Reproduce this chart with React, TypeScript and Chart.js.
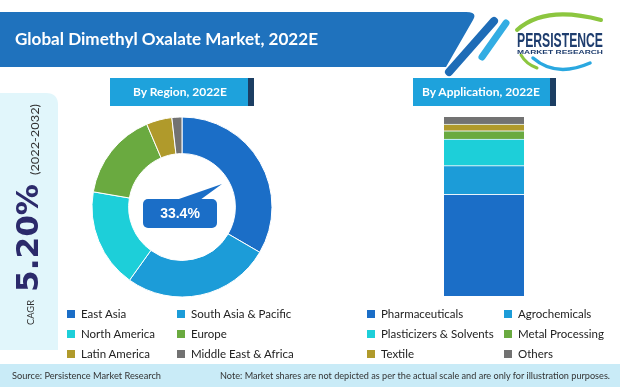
import React, { useEffect, useRef } from 'react';
import Chart from 'chart.js/auto';

const regionLabels = ['East Asia', 'South Asia & Pacific', 'North America', 'Europe', 'Latin America', 'Middle East & Africa'];
const regionShares = [33.4, 26.5, 17.8, 15.9, 4.6, 1.8];
const applicationLabels = ['Pharmaceuticals', 'Agrochemicals', 'Plasticizers & Solvents', 'Metal Processing', 'Textile', 'Others'];
const applicationShares = [56.8, 16.0, 14.9, 4.6, 3.7, 4.0];
const segmentColors = ['#1b6ec7', '#1c9cd8', '#1dcfd9', '#6aaa40', '#b09a2b', '#727272'];
const highlightText = '33.4%';
const titleText = 'Global Dimethyl Oxalate Market, 2022E';
const cagrValue = '5.20%';
const cagrPeriod = '(2022-2032)';

const LEGEND_ROWS = [317.5, 337.5, 357.5];

function Legend({ labels, x1, x2 }: { labels: string[]; x1: number; x2: number }) {
  return (
    <g>
      {labels.map((l, i) => {
        const col = i % 2;
        const row = Math.floor(i / 2);
        const x = col === 0 ? x1 : x2;
        const y = LEGEND_ROWS[row];
        return (
          <g key={l}>
            <rect x={x} y={y - 7.5} width={8} height={8} fill={segmentColors[i]} />
            <text x={x + 14} y={y} fontFamily="Lato" fontSize={11.5} fill="#222">{l}</text>
          </g>
        );
      })}
    </g>
  );
}

export default function App() {
  const donutRef = useRef<HTMLCanvasElement>(null);
  const barRef = useRef<HTMLCanvasElement>(null);

  useEffect(() => {
    document.body.style.margin = '0';
    const donut = new Chart(donutRef.current!, {
      type: 'doughnut',
      data: {
        labels: regionLabels,
        datasets: [{
          data: regionShares,
          backgroundColor: segmentColors,
          borderColor: '#ffffff',
          borderWidth: 1,
          hoverOffset: 0,
          offset: 0,
        }],
      },
      options: {
        responsive: false,
        animation: false,
        events: [],
        radius: 90,
        cutout: 59,
        layout: { padding: 0 },
        plugins: { legend: { display: false }, tooltip: { enabled: false } },
      } as any,
    });
    const total = applicationShares.reduce((a, b) => a + b, 0);
    const bar = new Chart(barRef.current!, {
      type: 'bar',
      data: {
        labels: ['2022E'],
        datasets: applicationLabels.map((l, i) => ({
          label: l,
          data: [applicationShares[i]],
          backgroundColor: segmentColors[i],
          borderColor: '#e8f4fb',
          borderWidth: i < applicationLabels.length - 1 ? { top: 1, bottom: 0, left: 0, right: 0 } : 0,
          borderSkipped: false,
          barPercentage: 1,
          categoryPercentage: 1,
        })),
      },
      options: {
        responsive: false,
        animation: false,
        events: [],
        layout: { padding: 0 },
        scales: {
          x: { stacked: true, display: false },
          y: { stacked: true, display: false, min: 0, max: total },
        },
        plugins: { legend: { display: false }, tooltip: { enabled: false } },
      } as any,
    });
    return () => {
      donut.destroy();
      bar.destroy();
    };
  }, []);

  return (
    <div style={{ position: 'fixed', left: 0, top: 0, width: 620, height: 387, background: '#fff', overflow: 'hidden' }}>
      <canvas ref={donutRef} width={200} height={200} style={{ position: 'absolute', left: 82, top: 107, width: 200, height: 200 }} />
      <canvas ref={barRef} width={80} height={179} style={{ position: 'absolute', left: 444, top: 117, width: 80, height: 179 }} />
      <svg width={620} height={387} style={{ position: 'absolute', left: 0, top: 0, pointerEvents: 'none' }}>
        {/* header */}
        <path d="M0,12 H466 Q478,12 473,20 L446,67 H0 Z" fill="#1f72bd" />
        <line x1={494} y1={21} x2={449} y2={72} stroke="#1e6cb7" strokeWidth={8} strokeLinecap="round" />
        <line x1={506} y1={23} x2={482} y2={57} stroke="#33ade3" strokeWidth={7} strokeLinecap="round" />
        <text x={15} y={45} fontFamily="Lato" fontWeight={700} fontSize={17} fill="#ffffff" textLength={303} lengthAdjust="spacingAndGlyphs">{titleText}</text>
        {/* logo */}
        <path d="M517,30 Q545,5 601,20" fill="none" stroke="#8cc63f" strokeWidth={4} strokeLinecap="round" />
        <path d="M533,58 Q556,78 590,63" fill="none" stroke="#2aa8e0" strokeWidth={3.5} strokeLinecap="round" />
        <path d="M521,55 Q526,64 537,68" fill="none" stroke="#8cc63f" strokeWidth={3} strokeLinecap="round" />
        <text x={517} y={47} fontFamily="Liberation Sans" fontWeight={700} fontSize={20} fill="#1e3d6e" textLength={86} lengthAdjust="spacingAndGlyphs">PERSISTENCE</text>
        <text x={517} y={54} fontFamily="Liberation Sans" fontWeight={700} fontSize={6} fill="#1e3d6e" textLength={86} lengthAdjust="spacingAndGlyphs">MARKET RESEARCH</text>
        {/* section headers */}
        <rect x={110} y={78} width={144} height={28} fill="#1c3e63" />
        <rect x={110} y={78} width={138} height={28} fill="#1ea2dc" />
        <text x={180} y={96} textAnchor="middle" fontFamily="Lato" fontWeight={700} fontSize={12} fill="#ffffff">By Region, 2022E</text>
        <rect x={413} y={78} width={143} height={28} fill="#1c3e63" />
        <rect x={413} y={78} width={137} height={28} fill="#1ea2dc" />
        <text x={481} y={96} textAnchor="middle" fontFamily="Lato" fontWeight={700} fontSize={12} fill="#ffffff">By Application, 2022E</text>
        {/* CAGR panel */}
        <path d="M0,93 H46 Q58,93 58,105 V350 H0 Z" fill="#e1f6fb" />
        <text transform="translate(34,325) rotate(-90)" fontFamily="Lato" fontSize={10} fill="#333" textLength={25} lengthAdjust="spacingAndGlyphs">CAGR</text>
        <text transform="translate(38,292) rotate(-90)" fontFamily="DejaVu Sans" fontWeight={700} fontSize={31} fill="#2b2a6b" textLength={108} lengthAdjust="spacingAndGlyphs">{cagrValue}</text>
        <text transform="translate(39,175) rotate(-90)" fontFamily="Lato" fontSize={11} fill="#333" textLength={71} lengthAdjust="spacingAndGlyphs">{cagrPeriod}</text>
        {/* callout */}
        <polygon points="176,200 200,200 222,184" fill="#1b6ec7" />
        <rect x={143} y={199} width={74} height={29} rx={5} fill="#1b6ec7" />
        <text x={180} y={218} textAnchor="middle" fontFamily="Liberation Sans" fontWeight={700} fontSize={14} fill="#ffffff">{highlightText}</text>
        {/* legends */}
        <Legend labels={regionLabels} x1={67} x2={177} />
        <Legend labels={applicationLabels} x1={367} x2={504} />
        {/* footer */}
        <rect x={0} y={364} width={620} height={23} fill="#c9ebf7" />
        <text x={12} y={379} fontFamily="Lato" fontSize={9} fill="#333" textLength={149} lengthAdjust="spacingAndGlyphs">Source: Persistence Market Research</text>
        <text x={220} y={379} fontFamily="Lato" fontSize={9} fill="#333" textLength={390} lengthAdjust="spacingAndGlyphs">Note: Market shares are not depicted as per the actual scale and are only for illustration purposes.</text>
      </svg>
    </div>
  );
}
